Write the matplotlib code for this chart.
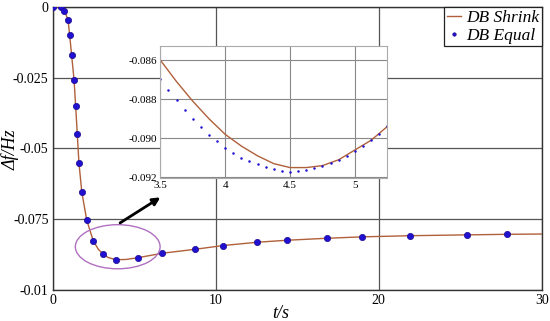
#!/usr/bin/env python3
import matplotlib
matplotlib.use('Agg')
import matplotlib.pyplot as plt
from matplotlib.patches import Ellipse

plt.rcParams['font.family'] = ['Liberation Serif', 'DejaVu Serif']

# main curve (DB Shrink)
t_line = [0, 0.3, 0.53, 0.72, 0.94, 1.04, 1.16, 1.31, 1.41, 1.51, 1.61, 1.79,
          2.09, 2.49, 2.8, 3.09, 3.4, 3.88, 4.5, 5.21, 6.73, 8.74, 10.42, 12.56,
          14.39, 16.82, 19.0, 21.9, 25.4, 27.9, 30]
y_line = [0, 0, 0, -0.0013, -0.0045, -0.0098, -0.0169, -0.0257, -0.0351, -0.0450,
          -0.0551, -0.0656, -0.0754, -0.0827, -0.0857, -0.0874, -0.0886, -0.0894,
          -0.0893, -0.0887, -0.0871, -0.0857, -0.0844, -0.0832, -0.0825, -0.0818,
          -0.0813, -0.0809, -0.0806, -0.0804, -0.0803]

# main dots (DB Equal)
t_dots = [0, 0.53, 0.72, 0.94, 1.04, 1.16, 1.31, 1.41, 1.51, 1.61, 1.79, 2.09,
          2.49, 3.09, 3.88, 5.21, 6.73, 8.74, 10.42, 12.56, 14.39, 16.82, 19.0,
          21.9, 25.4, 27.9]
y_dots = [0, 0, -0.0013, -0.0045, -0.0098, -0.0169, -0.0257, -0.0351, -0.0450,
          -0.0551, -0.0656, -0.0754, -0.0827, -0.0874, -0.0894, -0.0887, -0.0871,
          -0.0857, -0.0844, -0.0832, -0.0825, -0.0818, -0.0813, -0.0809, -0.0806,
          -0.0804]

# zoomed window
t_zl = [3.5, 3.625, 3.75, 3.875, 4.0, 4.125, 4.25, 4.375, 4.5, 4.625, 4.75,
        4.875, 5.0, 5.125, 5.25]
y_zl = [-0.0860, -0.0871, -0.0881, -0.0890, -0.0898, -0.0904, -0.0909, -0.0913,
        -0.0915, -0.0915, -0.0914, -0.0911, -0.0906, -0.0901, -0.0894]

t_zd = [3.5 + 0.0625 * k for k in range(29)]
y_zd = [-0.08696, -0.08754, -0.08805, -0.08853, -0.08901, -0.08942, -0.08981,
        -0.09015, -0.09048, -0.09075, -0.09099, -0.09118, -0.09133, -0.09145,
        -0.09158, -0.0917, -0.09174, -0.0917, -0.0916, -0.0915, -0.0914,
        -0.09127, -0.0911, -0.0909, -0.09066, -0.0904, -0.09007, -0.08978,
        -0.08938]

y_ticks = [0, -0.025, -0.05, -0.075, -0.1]
y_ticklabels = ['0', '-0.025', '-0.05', '-0.075', '-0.01']
x_ticks = [0, 10, 20, 30]
zx_ticks = [3.5, 4, 4.5, 5]
zy_ticks = [-0.086, -0.088, -0.090, -0.092]

line_c = '#b0603a'
dot_c = '#2010d0'

fig = plt.figure(figsize=(5.5, 3.21), dpi=100)
ax = fig.add_axes([0.0958, 0.0975, 0.889, 0.8805])

ax.plot(t_line, y_line, color=line_c, lw=1.0, label='DB Shrink', zorder=3)
ax.plot(t_dots, y_dots, 'o', color=dot_c, mec='#1a0a90', mew=0.5, ms=4.5,
        label='DB Equal', zorder=4)

ax.set_xlim(0, 30)
ax.set_ylim(-0.1, 0)
ax.set_xticks(x_ticks)
ax.set_yticks(y_ticks)
ax.set_yticklabels(y_ticklabels)
ax.tick_params(length=0, labelsize=10, pad=3)
ax.grid(True, color='#555555', lw=0.9)
for s in ax.spines.values():
    s.set_color('#333333')
    s.set_linewidth(1.0)
ax.set_xlabel('t/s', fontsize=13, style='italic')
ax.xaxis.set_label_coords(0.467, -0.055)
ax.set_ylabel('Δf/Hz', fontsize=13, style='italic')
ax.yaxis.set_label_coords(-0.068, 0.494)

leg = ax.legend(loc='upper right', prop={'style': 'italic', 'size': 12.5},
                fancybox=False, edgecolor='#222222', framealpha=1,
                borderaxespad=0, handlelength=0.8, handletextpad=0.3,
                borderpad=0.15, labelspacing=0.1, markerscale=0.55)
leg.get_frame().set_linewidth(0.9)

# ellipse and arrow
ax.add_patch(Ellipse((3.99, -0.0848), 5.2, 0.0156, fill=False,
                     edgecolor='#b070c0', lw=1.0, zorder=5))
ax.annotate('', xy=(6.75, -0.0668), xytext=(3.99, -0.0769),
            arrowprops=dict(arrowstyle='-|>', color='black', lw=2.0,
                            mutation_scale=11), zorder=6)

# inset
ins = fig.add_axes([0.2915, 0.4445, 0.4127, 0.412])
ins.plot(t_zl, y_zl, color=line_c, lw=1.0)
ins.plot(t_zd, y_zd, 'o', color=dot_c, ms=1.8, mew=0)
ins.set_xlim(3.5, 5.25)
ins.set_ylim(-0.09205, -0.08528)
ins.set_xticks(zx_ticks)
ins.set_xticklabels(['3.5', '4', '4.5', '5'])
ins.set_yticks(zy_ticks)
ins.set_yticklabels(['-0.086', '-0.088', '-0.090', '-0.092'])
ins.tick_params(length=0, labelsize=8, pad=2)
ins.grid(True, color='#888888', lw=0.8)
for s in ins.spines.values():
    s.set_color('#aaaaaa')
    s.set_linewidth(0.8)

fig.savefig('out.png', dpi=100)
